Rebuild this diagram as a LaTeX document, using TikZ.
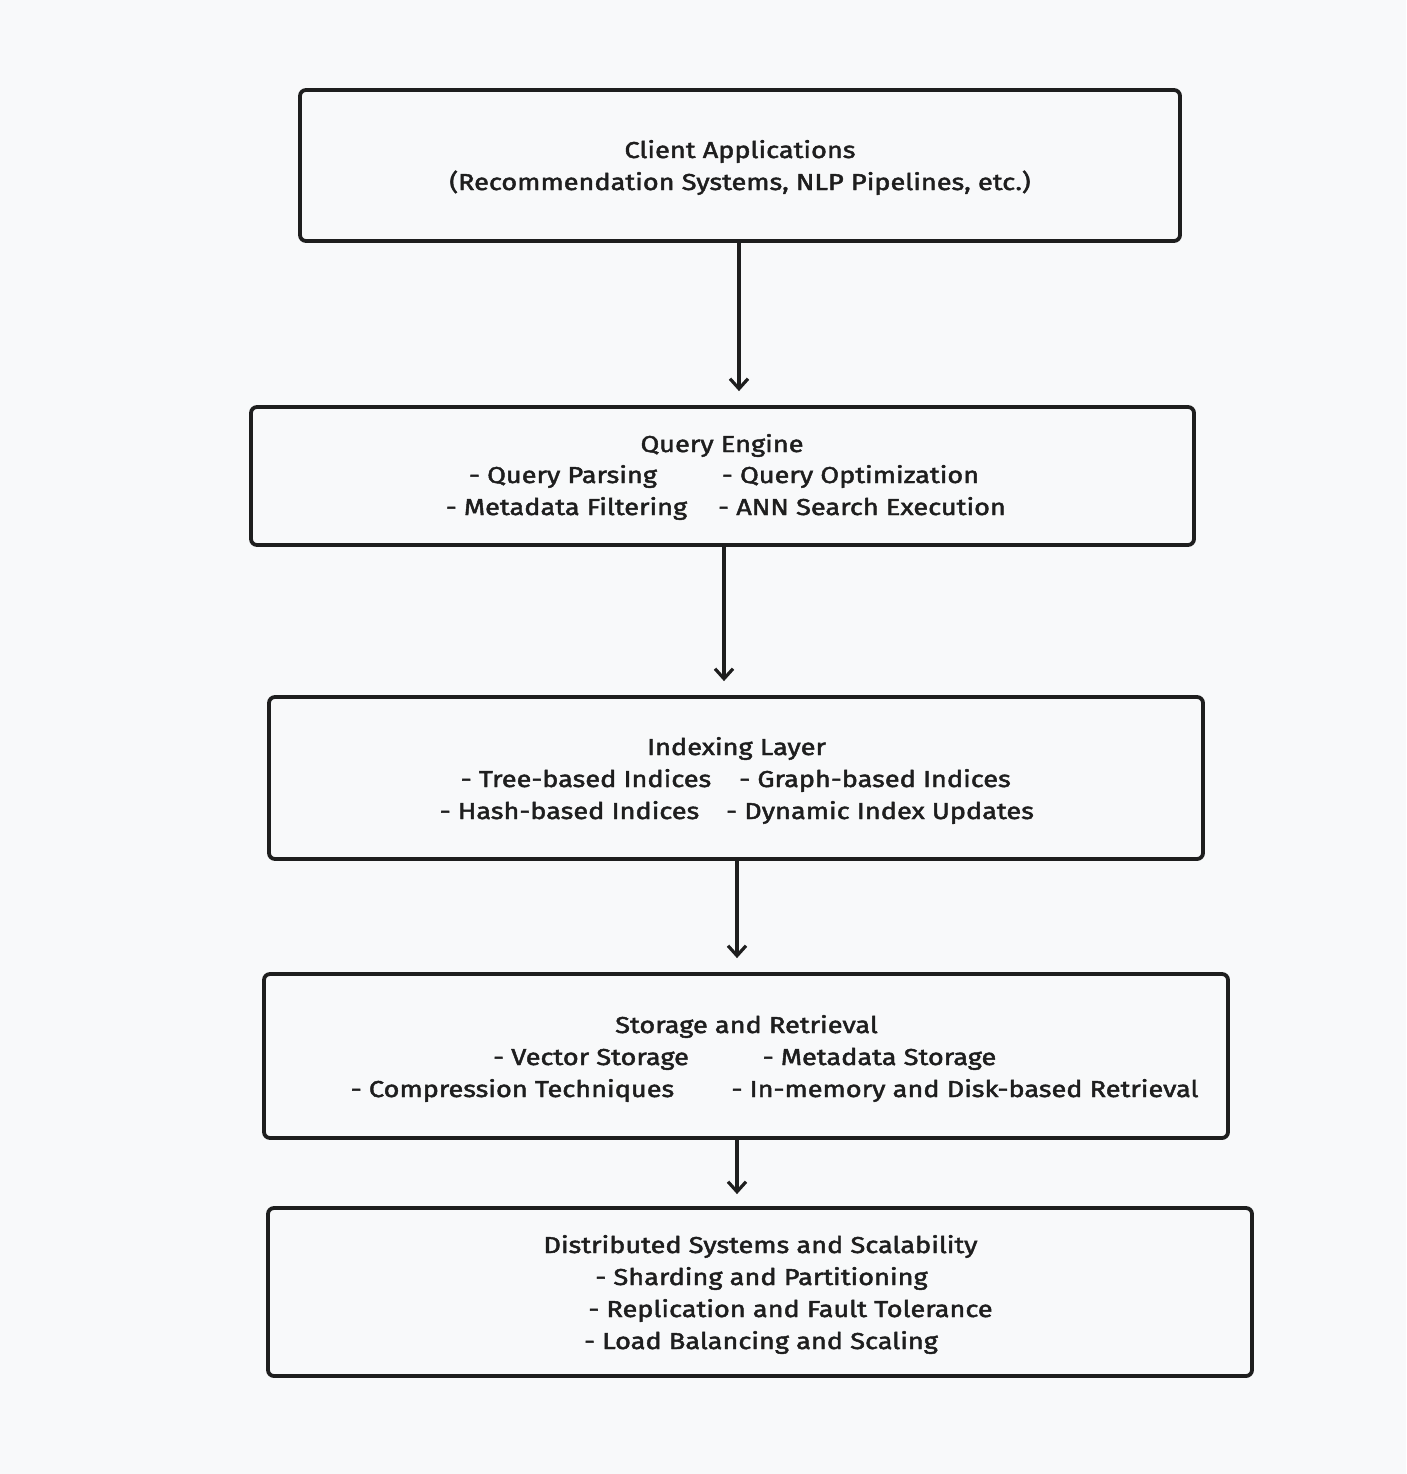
\documentclass[tikz,border=0pt]{standalone}
\usepackage{fontspec}
\setmainfont{Fira Sans}[FakeStretch=1.18,FakeBold=2]
\usetikzlibrary{arrows.meta,calc}
\definecolor{bg}{HTML}{F8F9FA}
\definecolor{ink}{HTML}{1E1E1E}
\begin{document}
\begin{tikzpicture}[x=1pt,y=-1pt,
  box/.style={draw=ink,line width=3.8pt,rounded corners=6pt,inner sep=0pt},
  txt/.style={text=ink,inner sep=0pt,anchor=base,font=\fontsize{23}{32}\selectfont},
  arr/.style={draw=ink,line width=3.2pt,-{Straight Barb[length=10pt,width=18pt,line width=3.2pt]}}]
\fill[bg] (0,0) rectangle (1406,1474);
\useasboundingbox (0,0) rectangle (1406,1474);
% boxes
\node[box,minimum width=880pt,minimum height=151pt] (b1) at (740,165.5) {};
\node[box,minimum width=943pt,minimum height=138pt] (b2) at (722.5,476) {};
\node[box,minimum width=934pt,minimum height=162pt] (b3) at (736,778) {};
\node[box,minimum width=964pt,minimum height=164pt] (b4) at (746,1056) {};
\node[box,minimum width=984pt,minimum height=168pt] (b5) at (760,1292) {};
% texts box 1
\node[txt] (t11) at (740,158) {Client Applications};
\node[txt] (t12) at (740,190) {(Recommendation Systems, NLP Pipelines, etc.)};
% box 2
\node[txt] (t21) at (722,452) {Query Engine};
\node[txt] (t22a) at (563,483) {- Query Parsing};
\node[txt] (t22b) at (850.5,483) {- Query Optimization};
\node[txt] (t23a) at (566.5,515) {- Metadata Filtering};
\node[txt] (t23b) at (862,515) {- ANN Search Execution};
% box 3
\node[txt] (t31) at (736.5,755) {Indexing Layer};
\node[txt] (t32a) at (586,787) {- Tree-based Indices};
\node[txt] (t32b) at (875,787) {- Graph-based Indices};
\node[txt] (t33a) at (569.5,819) {- Hash-based Indices};
\node[txt] (t33b) at (880,819) {- Dynamic Index Updates};
% box 4
\node[txt] (t41) at (746.5,1033) {Storage and Retrieval};
\node[txt] (t42a) at (591,1065) {- Vector Storage};
\node[txt] (t42b) at (879.5,1065) {- Metadata Storage};
\node[txt] (t43a) at (512.5,1097) {- Compression Techniques};
\node[txt] (t43b) at (965,1097) {- In-memory and Disk-based Retrieval};
% box 5
\node[txt] (t51) at (760.5,1253) {Distributed Systems and Scalability};
\node[txt] (t52) at (761.5,1285) {- Sharding and Partitioning};
\node[txt] (t53) at (790.5,1317) {- Replication and Fault Tolerance};
\node[txt] (t54) at (761,1349) {- Load Balancing and Scaling};
% arrows
\draw[arr,shorten >=14pt] ([xshift=-1pt]b1.south) -- ([xshift=-1pt]b1.south |- b2.north);
\draw[arr,shorten >=14pt] ([xshift=1.5pt]b2.south) -- ([xshift=1.5pt]b2.south |- b3.north);
\draw[arr,shorten >=14pt] ([xshift=1pt]b3.south) -- ([xshift=1pt]b3.south |- b4.north);
\draw[arr,shorten >=12pt] ([xshift=-9pt]b4.south) -- ([xshift=-9pt]b4.south |- b5.north);
\end{tikzpicture}
\end{document}
